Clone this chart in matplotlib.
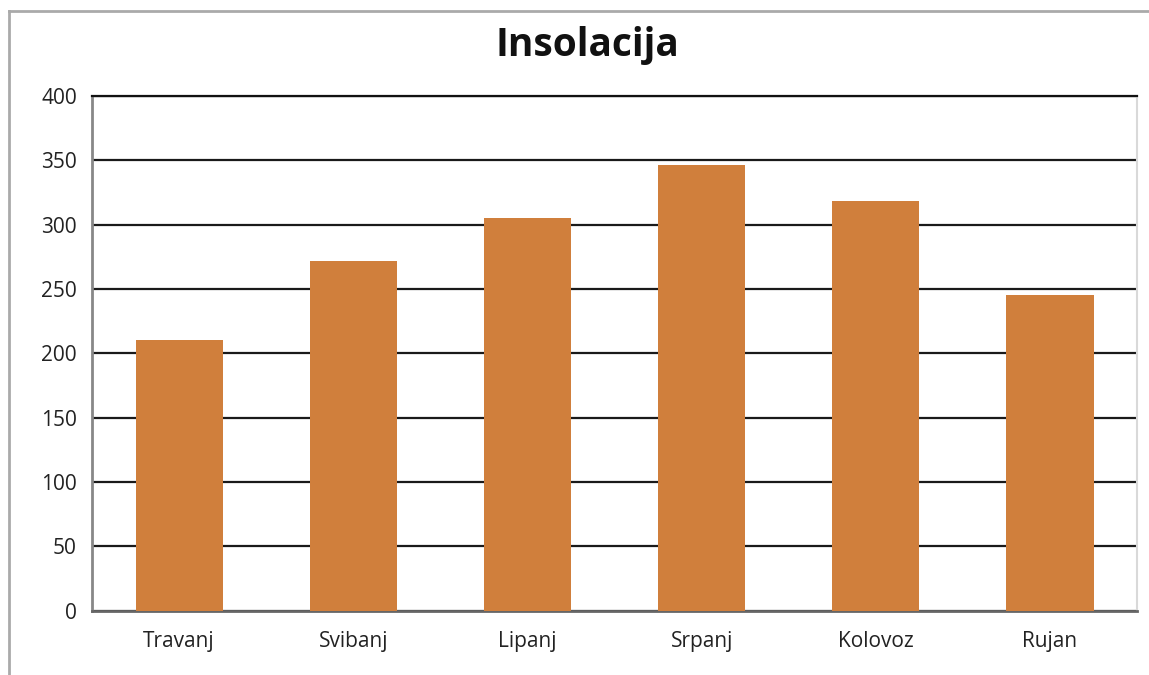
import matplotlib
matplotlib.use("Agg")
import matplotlib.pyplot as plt
from matplotlib.lines import Line2D

months = ["Travanj", "Svibanj", "Lipanj", "Srpanj", "Kolovoz", "Rujan"]
insolation = [210, 272, 305, 346, 318, 245]
yticks = [0, 50, 100, 150, 200, 250, 300, 350, 400]
title = "Insolacija"

plt.rcParams['font.family'] = ['Open Sans', 'DejaVu Sans']

fig = plt.figure(figsize=(11.49, 6.75), dpi=100)
ax = fig.add_axes([0.0801, 0.0954, 0.9095, 0.7624])

x = range(len(months))
ax.bar(x, insolation, width=0.5, color='#D07F3C', zorder=3)
ax.set_xlim(-0.5, len(months) - 0.5)
ax.set_ylim(0, 400)
ax.set_yticks(yticks)
ax.set_xticks(list(x))
ax.set_xticklabels(months)
ax.tick_params(axis='both', length=0, labelsize=15, colors='#222222')
ax.tick_params(axis='y', pad=11)
ax.tick_params(axis='x', pad=15)
ax.yaxis.grid(True, color='#1a1a1a', linewidth=1.6, zorder=1)
ax.set_axisbelow(True)

ax.spines['top'].set_color('#111111')
ax.spines['top'].set_linewidth(1.6)
ax.spines['left'].set_color('#888888')
ax.spines['left'].set_linewidth(2)
ax.spines['bottom'].set_color('#666666')
ax.spines['bottom'].set_linewidth(2)
ax.spines['right'].set_color('#d9d9d9')
ax.spines['right'].set_linewidth(1.5)

fig.text(0.511, 0.932, title, ha='center', va='center', fontsize=28, fontweight='bold', color='#111111')

# outer frame (top and left)
fig.add_artist(Line2D([9/1149, 1.0], [1 - 11/675, 1 - 11/675], color='#aaaaaa', linewidth=2, transform=fig.transFigure))
fig.add_artist(Line2D([9/1149, 9/1149], [0, 1 - 11/675], color='#aaaaaa', linewidth=2, transform=fig.transFigure))

fig.savefig("out.png", dpi=100)
